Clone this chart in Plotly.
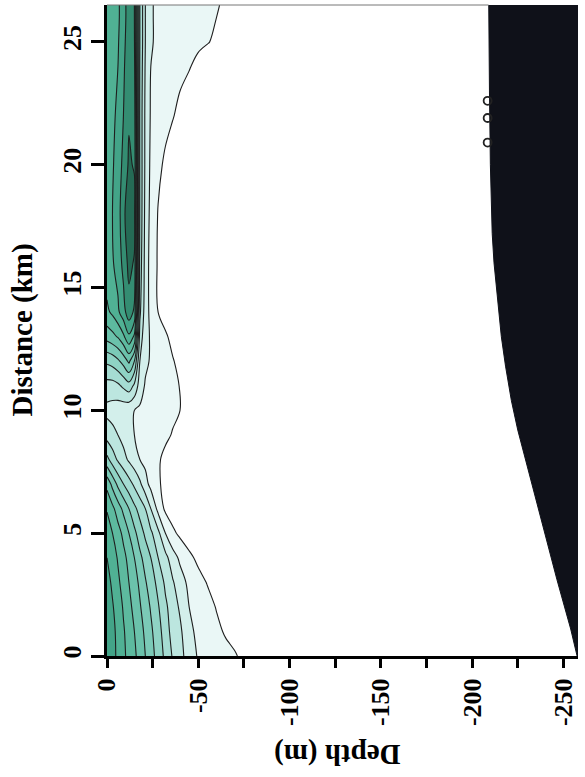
import plotly.graph_objects as go

# ---------------- data ----------------
depth_m = [0, -3, -6, -9, -12, -15, -18, -21, -24, -28, -32, -36, -40, -45, -50,
           -55, -60, -65, -70, -75, -80, -258]
distance_km = [0, 1, 2, 3, 4, 5, 6, 7, 8, 9, 10, 11, 12, 13, 14, 16, 18, 20, 22,
               24, 25, 26, 26.5]

# contoured quantity (arbitrary units), one row per distance, one column per depth
chl = [
    [10.8, 10.3, 9.8, 9.2, 8.7, 8.2, 7.6, 7.0, 6.4, 5.6, 4.75, 3.9, 3.35, 2.5, 1.9, 1.6, 1.45, 1.28, 1.08, 0.8, 0.5, 0],
    [10.9, 10.3, 9.7, 9.1, 8.6, 8.0, 7.4, 6.8, 6.2, 5.4, 4.5, 3.6, 3.2, 2.2, 1.8, 1.5, 1.2, 0.9, 0.7, 0.5, 0.3, 0],
    [10.7, 10.1, 9.5, 8.9, 8.3, 7.7, 7.1, 6.5, 5.9, 5.1, 4.2, 3.5, 2.85, 2.0, 1.6, 1.3, 0.95, 0.7, 0.5, 0.3, 0.15, 0],
    [10.4, 9.8, 9.2, 8.6, 8.0, 7.4, 6.8, 6.1, 5.5, 4.7, 3.8, 3.1, 2.45, 1.75, 1.3, 0.95, 0.6, 0.4, 0.25, 0.15, 0.1, 0],
    [10.0, 9.5, 8.9, 8.3, 7.7, 7.0, 6.25, 5.6, 5.0, 4.0, 3.3, 2.45, 1.8, 1.2, 0.8, 0.5, 0.3, 0.2, 0.1, 0.05, 0, 0],
    [9.6, 9.0, 8.4, 7.75, 7.0, 6.25, 5.5, 4.8, 4.2, 3.25, 2.0, 1.2, 0.8, 0.5, 0.3, 0.15, 0.1, 0.05, 0, 0, 0, 0],
    [8.9, 8.25, 7.5, 6.75, 6.0, 5.25, 4.6, 4.0, 3.0, 1.7, 0.8, 0.5, 0.3, 0.2, 0.1, 0.05, 0, 0, 0, 0, 0, 0],
    [7.7, 6.7, 5.75, 5.0, 4.4, 3.8, 3.2, 2.35, 1.7, 1.1, 0.8, 0.55, 0.35, 0.2, 0.1, 0.05, 0, 0, 0, 0, 0, 0],
    [5.3, 4.5, 3.85, 3.35, 2.85, 2.45, 2.0, 1.75, 1.5, 1.1, 0.8, 0.6, 0.4, 0.25, 0.1, 0.05, 0, 0, 0, 0, 0, 0],
    [3.6, 3.3, 3.0, 2.65, 2.35, 2.0, 1.85, 1.7, 1.55, 1.35, 1.15, 0.95, 0.7, 0.45, 0.25, 0.1, 0, 0, 0, 0, 0, 0],
    [2.7, 2.6, 2.45, 2.35, 2.2, 2.0, 1.85, 1.7, 1.6, 1.45, 1.3, 1.15, 1.0, 0.7, 0.45, 0.25, 0.1, 0, 0, 0, 0, 0],
    [3.6, 3.6, 3.8, 4.2, 4.6, 3.8, 2.5, 1.9, 1.7, 1.5, 1.35, 1.2, 0.97, 0.65, 0.4, 0.2, 0.1, 0, 0, 0, 0, 0],
    [5.2, 5.4, 5.8, 6.4, 7.2, 6.0, 3.0, 2.2, 1.9, 1.6, 1.35, 1.05, 0.8, 0.5, 0.3, 0.15, 0, 0, 0, 0, 0, 0],
    [7.4, 7.7, 8.1, 8.8, 9.8, 8.8, 3.6, 2.3, 1.9, 1.5, 1.1, 0.8, 0.5, 0.3, 0.15, 0, 0, 0, 0, 0, 0, 0],
    [8.8, 9.2, 9.8, 10.6, 11.6, 10.8, 4.2, 2.5, 1.7, 1.0, 0.7, 0.45, 0.3, 0.15, 0, 0, 0, 0, 0, 0, 0, 0],
    [9.6, 9.9, 10.4, 11.3, 12.3, 11.9, 4.6, 2.6, 1.6, 0.9, 0.6, 0.4, 0.25, 0.1, 0, 0, 0, 0, 0, 0, 0, 0],
    [9.7, 10.0, 10.6, 11.6, 13.0, 12.4, 4.8, 2.7, 1.7, 0.95, 0.65, 0.4, 0.25, 0.1, 0, 0, 0, 0, 0, 0, 0, 0],
    [9.6, 9.9, 10.4, 11.3, 12.15, 11.9, 4.8, 2.8, 1.8, 1.2, 0.85, 0.55, 0.35, 0.15, 0, 0, 0, 0, 0, 0, 0, 0],
    [9.5, 9.8, 10.2, 11.0, 11.9, 11.6, 4.8, 2.8, 1.9, 1.5, 1.25, 1.05, 0.8, 0.5, 0.3, 0.15, 0, 0, 0, 0, 0, 0],
    [9.3, 9.6, 10.0, 10.8, 11.8, 11.3, 4.9, 2.9, 2.0, 1.7, 1.5, 1.35, 1.2, 1.05, 0.8, 0.5, 0.3, 0.15, 0, 0, 0, 0],
    [9.2, 9.5, 9.9, 10.7, 11.6, 11.1, 5.0, 3.0, 2.1, 1.8, 1.6, 1.45, 1.35, 1.25, 1.15, 1.05, 0.85, 0.6, 0.35, 0.15, 0, 0],
    [9.1, 9.4, 9.8, 10.6, 11.5, 11.0, 5.0, 3.0, 2.1, 1.8, 1.6, 1.5, 1.4, 1.3, 1.2, 1.1, 1.0, 0.75, 0.45, 0.2, 0, 0],
    [9.1, 9.4, 9.8, 10.6, 11.5, 11.0, 5.0, 3.0, 2.1, 1.8, 1.6, 1.5, 1.4, 1.3, 1.2, 1.1, 1.05, 0.9, 0.55, 0.25, 0, 0],
]

# sea-floor (bathymetry) outline
bathy_dist = [0, 1.1, 3.1, 5.2, 7.2, 9.2, 10.4, 11.8, 13.0, 14.5, 16.0, 17.2, 20, 23, 26.5]
bathy_depth = [-257.5, -254, -246.5, -239, -232, -225, -221.5, -218.3, -216, -213.8,
               -212, -211, -210, -209.5, -209]

# small circles on the slope
marker_dist = [22.6, 21.9, 20.9]
marker_depth = [-208.5, -208.5, -208.5]

depth_ticks = [0, -50, -100, -150, -200, -250]
depth_ticktext = ["0", "-50", "-100", "-150", "-200", "-250"]
depth_minor = [-25, -75, -125, -175, -225]
dist_ticks = [0, 5, 10, 15, 20, 25]
dist_ticktext = ["0", "5", "10", "15", "20", "25"]

X_RANGE = [0, -258]
Y_RANGE = [0, 26.5]

# ---------------- styling ----------------
band_colors = ["#ffffff", "#eaf7f6", "#d3efeb", "#bce6df", "#a5dcd2", "#8fd3c4",
               "#7bcab7", "#6bc2ab", "#5dba9f", "#50b194", "#43a488", "#348d72",
               "#256b55"]
nb = len(band_colors) - 1
colorscale = [[k / nb, c] for k, c in enumerate(band_colors)]

FONT = "Liberation Serif"
tickfont = dict(family=FONT, size=26, color="black", weight="bold")
titlefont = dict(family=FONT, size=29, color="black", weight="bold")

fig = go.Figure()

fig.add_trace(go.Contour(
    x=depth_m, y=distance_km, z=chl,
    colorscale=colorscale, showscale=False,
    contours=dict(start=1, end=12, size=1, coloring="fill", showlines=True),
    line=dict(color="#1e1e1e", width=1.1),
    hoverinfo="skip",
))

# bathymetry filled to the right edge of the plot
far = X_RANGE[1] - 50
poly_x = bathy_depth + [bathy_depth[-1], far, far, bathy_depth[0]]
poly_y = bathy_dist + [Y_RANGE[1] + 1, Y_RANGE[1] + 1, Y_RANGE[0] - 1, Y_RANGE[0] - 1]
fig.add_trace(go.Scatter(
    x=poly_x, y=poly_y, mode="lines", fill="toself",
    fillcolor="#0f1119", line=dict(color="#0f1119", width=1),
    hoverinfo="skip", showlegend=False,
))

fig.add_trace(go.Scatter(
    x=marker_depth, y=marker_dist, mode="markers",
    marker=dict(symbol="circle-open", size=8, color="#222", line=dict(width=1.8)),
    hoverinfo="skip", showlegend=False,
))

fig.update_layout(
    width=585, height=777,
    margin=dict(l=107, r=7, t=5, b=121),
    paper_bgcolor="white", plot_bgcolor="white",
    showlegend=False,
    xaxis=dict(
        range=X_RANGE, tickvals=depth_ticks, ticktext=depth_ticktext,
        tickangle=-90, ticks="outside", ticklen=9, tickwidth=3, tickcolor="black",
        showline=True, linewidth=3, linecolor="black",
        showgrid=False, zeroline=False, tickfont=tickfont,
        minor=dict(tickvals=depth_minor, ticks="outside", ticklen=9,
                   tickwidth=3, tickcolor="black", showgrid=False),
    ),
    yaxis=dict(
        range=Y_RANGE, tickvals=dist_ticks, ticktext=dist_ticktext,
        tickangle=-90, ticks="outside", ticklen=13, tickwidth=3, tickcolor="black",
        showline=True, linewidth=3, linecolor="black",
        showgrid=False, zeroline=False, tickfont=tickfont,
    ),
    shapes=[dict(type="line", xref="x", yref="paper", x0=X_RANGE[0], x1=bathy_depth[-1],
                 y0=1, y1=1, line=dict(color="#777", width=1))],
    annotations=[
        dict(text="Depth (m)", textangle=180, xref="paper", yref="paper",
             x=0.49, y=0, xanchor="center", yanchor="middle", yshift=-99,
             showarrow=False, font=titlefont),
        dict(text="Distance (km)", textangle=-90, xref="paper", yref="paper",
             x=0, y=0.5, xanchor="center", yanchor="middle", xshift=-85,
             showarrow=False, font=titlefont),
    ],
)

fig.write_html("out.html")
